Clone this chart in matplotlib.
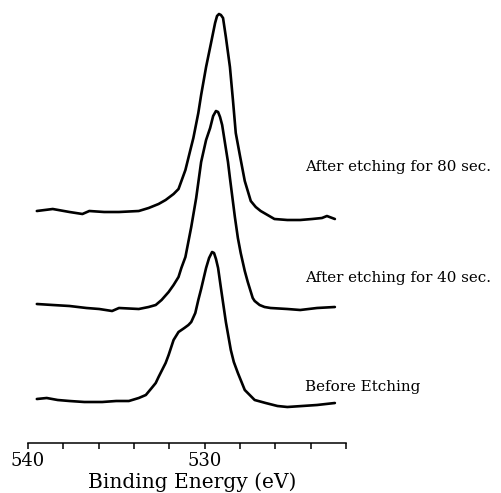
import matplotlib
matplotlib.use("Agg")
import matplotlib.pyplot as plt

# O 1s spectra (binding energy in eV, intensity in arbitrary units, offset per curve)
energy_80 = [539.50, 538.60, 537.65, 536.92, 536.53, 535.69, 534.85, 533.73, 533.17, 532.61, 532.21,
             531.76, 531.48, 531.09, 530.81, 530.64, 530.36, 530.20, 529.92, 529.64, 529.41, 529.30,
             529.19, 529.08, 528.96, 528.80, 528.57, 528.40, 528.24, 528.01, 527.73, 527.39, 527.11,
             526.83, 526.44, 526.05, 525.32, 524.59, 523.92, 523.36, 523.08, 522.63]
counts_80 = [232, 234, 231, 229, 232, 231, 231, 232, 235, 239, 243,
             249, 254, 273, 293, 305, 330, 348, 376, 400, 420, 427,
             429, 428, 425, 406, 376, 343, 310, 288, 262, 242, 236,
             232, 228, 224, 223, 223, 224, 225, 227, 224]

energy_40 = [539.50, 538.60, 537.65, 536.69, 535.97, 535.24, 534.85, 533.73, 533.17, 532.77, 532.44,
             532.04, 531.76, 531.48, 531.32, 531.09, 530.76, 530.48, 530.20, 529.92, 529.69, 529.52,
             529.36, 529.24, 529.13, 529.01, 528.85, 528.68, 528.57, 528.29, 528.12, 527.96, 527.73,
             527.56, 527.28, 527.17, 526.89, 526.61, 526.27, 525.32, 524.59, 523.64, 522.63]
counts_40 = [139, 138, 137, 135, 134, 132, 135, 134, 136, 138, 143,
             151, 158, 166, 175, 186, 216, 245, 281, 303, 315, 327,
             332, 331, 326, 318, 300, 281, 265, 226, 205, 190, 172,
             161, 145, 142, 138, 136, 135, 134, 133, 135, 136]

energy_0 = [539.50, 538.94, 538.32, 537.65, 536.81, 535.80, 535.01, 534.29, 533.73, 533.33, 533.00,
            532.77, 532.61, 532.21, 532.04, 531.76, 531.48, 531.15, 530.92, 530.76, 530.53, 530.36,
            530.20, 529.92, 529.75, 529.58, 529.47, 529.36, 529.24, 529.08, 528.80, 528.52, 528.35,
            528.12, 527.73, 527.17, 526.55, 525.88, 525.32, 524.48, 523.64, 522.63]
counts_0 = [44, 45, 43, 42, 41, 41, 42, 42, 45, 48, 55,
            60, 66, 80, 88, 103, 111, 115, 118, 121, 130, 143,
            154, 175, 185, 191, 190, 184, 175, 155, 121, 93, 81,
            70, 53, 43, 40, 37, 36, 37, 38, 40]

labels = ["After etching for 80 sec.", "After etching for 40 sec.", "Before Etching"]
label_y = [276, 165, 56]
tick_pos = [540, 538, 536, 534, 532, 530, 528, 526, 524, 522]
tick_text = ["540", "", "", "", "", "530", "", "", "", ""]

plt.rcParams['font.family'] = ['DejaVu Serif']

fig = plt.figure(figsize=(5.02, 4.93), dpi=100)
ax = fig.add_axes([28 / 502, 50 / 493, 318 / 502, 443 / 493])

for e, c in [(energy_80, counts_80), (energy_40, counts_40), (energy_0, counts_0)]:
    ax.plot(e, c, color='black', lw=1.9, solid_joinstyle='round', solid_capstyle='round')

for txt, y in zip(labels, label_y):
    ax.text(524.32, y, txt, fontsize=10.9, va='center', ha='left', clip_on=False)

ax.set_xlim(540, 522)
ax.set_ylim(0, 443)
ax.set_xticks(tick_pos)
ax.set_xticklabels(tick_text, fontsize=13)
ax.tick_params(axis='x', direction='out', length=4.5, width=1.1, pad=2)
ax.set_yticks([])
for s in ['left', 'top', 'right']:
    ax.spines[s].set_visible(False)
ax.spines['bottom'].set_linewidth(1.1)

fig.text(192 / 502, 1 - 488 / 493, "Binding Energy (eV)", fontsize=14.5, ha='center', va='baseline')

fig.savefig("out.png", dpi=100)
